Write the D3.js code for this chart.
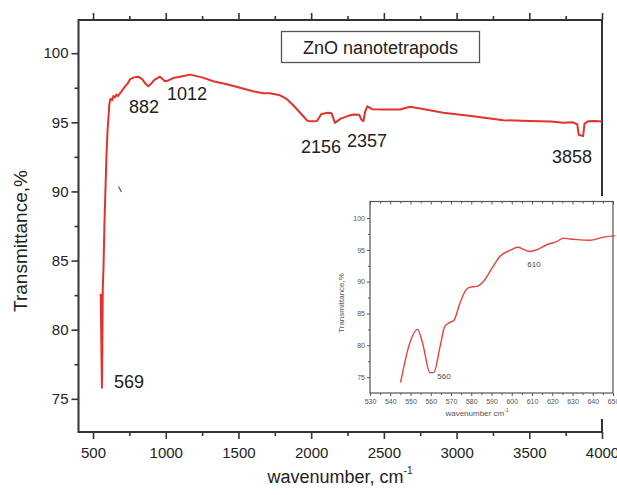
<!DOCTYPE html>
<html><head><meta charset="utf-8">
<script src="https://cdn.jsdelivr.net/npm/d3@7"></script>
<style>
html,body{margin:0;padding:0;background:#fff;}
svg{display:block;font-family:"Liberation Sans",Arial,sans-serif;}
</style></head>
<body><svg id="c" width="617" height="495"></svg>
<script>
// ---- main spectrum (wavenumber cm-1, transmittance %) ----
const mainWave = [553,557,561,564,567,572,578,585,592,600,605,612,620,632,640,652,660,672,685,700,720,738,754,780,811,840,860,880,900,920,960,995,1012,1050,1098,1167,1250,1327,1420,1511,1600,1671,1717,1786,1830,1880,1946,1975,2013,2040,2070,2116,2140,2164,2200,2250,2290,2330,2345,2359,2372,2386,2420,2500,2611,2680,2750,2909,3100,3322,3500,3650,3734,3800,3830,3840,3870,3880,3906,3950,4000];
const mainTrans = [82.6,79.0,75.8,78.5,83.0,84.5,87.5,90.0,92.5,94.5,95.2,96.3,96.7,96.6,96.9,96.8,97.0,96.9,97.1,97.3,97.6,97.8,98.1,98.25,98.3,98.1,97.8,97.6,97.8,98.05,98.3,97.97,98.0,98.2,98.3,98.45,98.25,97.97,97.75,97.5,97.25,97.1,97.1,96.95,96.7,96.2,95.44,95.1,95.08,95.1,95.6,95.69,95.65,94.96,95.25,95.45,95.56,95.55,95.2,95.08,95.8,96.16,95.95,95.92,95.92,96.12,96.0,95.69,95.45,95.15,95.1,95.05,94.96,95.0,94.85,94.1,94.0,94.9,95.08,95.1,95.05];
const peakLabels = ["569","882","1012","2156","2357","3858"];
const peakWave   = [569, 882, 1012, 2156, 2357, 3858];
const peakTrans  = [76.5, 97.0, 98.0, 95.1, 95.4, 94.5];

// ---- inset spectrum ----
const insetWave  = [545.1,549.4,553.5,556,559.6,561.5,564.6,567,569.5,571.4,574.4,577,579.3,582.6,585.9,590.8,594.1,599,603.2,605.6,609,612.3,617.3,622.2,625.5,628.8,632.1,638.7,645.3,651];
const insetTrans = [74.15,80.1,82.5,80.3,75.7,75.7,79.8,83.0,83.6,83.9,86.6,88.5,89.15,89.25,90.0,92.4,93.96,94.9,95.4,95.1,94.75,95.0,95.8,96.3,96.85,96.7,96.6,96.5,97.0,97.2];
const insetLabels = ["560","610"];
const insetLabelWave = [560, 610];

const mainXTicks = [500,1000,1500,2000,2500,3000,3500,4000];
const mainXMinor = [750,1250,1750,2250,2750,3250,3750];
const mainYTicks = [75,80,85,90,95,100];
const mainYMinor = [77.5,82.5,87.5,92.5,97.5];
const insetXTicks = [530,540,550,560,570,580,590,600,610,620,630,640,650];
const insetXMinor = [535,545,555,565,575,585,595,605,615,625,635,645];
const insetYTicks = [75,80,85,90,95,100];
const insetYMinor = [77.5,82.5,87.5,92.5,97.5];

const svg = d3.select("#c");
const RED = "#e3312b", AX = "#333";

// ---------- main chart ----------
const L=78.5, R=602, T=20, B=432;
const x = d3.scaleLinear().domain([400,4000]).range([L,R]);
const y = d3.scaleLinear().domain([72.6,102.4]).range([B,T]);

function styleAxis(g, col, w){
  g.select(".domain").remove();
  g.selectAll("line").attr("stroke",col).attr("stroke-width",w);
}
// ticks
svg.append("g").attr("transform",`translate(${L},0)`)
  .call(d3.axisLeft(y).tickValues(mainYTicks).tickSize(7).tickPadding(3).tickFormat(d3.format("d")))
  .call(g=>{styleAxis(g,AX,1.6);g.selectAll("text").attr("font-size",15).attr("fill","#222").attr("font-family","Liberation Sans, Arial");});
svg.append("g").attr("transform",`translate(${L},0)`)
  .call(d3.axisLeft(y).tickValues(mainYMinor).tickSize(4).tickFormat(""))
  .call(g=>styleAxis(g,AX,1.6));
svg.append("g").attr("transform",`translate(0,${B})`)
  .call(d3.axisBottom(x).tickValues(mainXTicks).tickSize(7).tickPadding(8).tickFormat(d3.format("d")))
  .call(g=>{styleAxis(g,AX,1.6);g.selectAll("text").attr("font-size",15).attr("fill","#222").attr("font-family","Liberation Sans, Arial");});
svg.append("g").attr("transform",`translate(0,${B})`)
  .call(d3.axisBottom(x).tickValues(mainXMinor).tickSize(4).tickFormat(""))
  .call(g=>styleAxis(g,AX,1.6));
svg.append("g").attr("transform",`translate(0,${T})`)
  .call(d3.axisTop(x).tickValues(mainXTicks).tickSize(7).tickFormat(""))
  .call(g=>styleAxis(g,AX,1.6));
svg.append("g").attr("transform",`translate(0,${T})`)
  .call(d3.axisTop(x).tickValues(mainXMinor).tickSize(4).tickFormat(""))
  .call(g=>styleAxis(g,AX,1.6));
// frame
svg.append("rect").attr("x",L).attr("y",T).attr("width",R-L).attr("height",B-T)
  .attr("fill","none").attr("stroke",AX).attr("stroke-width",2);

// curve
const line = d3.line().x(d=>x(d[0])).y(d=>y(d[1]));
svg.append("path").datum(mainWave.map((w,i)=>[w,mainTrans[i]]))
  .attr("d",line).attr("fill","none").attr("stroke",RED).attr("stroke-width",2).attr("stroke-linejoin","round");

// stray mark
svg.append("line").attr("x1",118.5).attr("y1",186.5).attr("x2",121.5).attr("y2",192)
  .attr("stroke","#555").attr("stroke-width",1.2);

// peak labels (offsets in px from the peak point)
const peakDX = [-31,-30,-26,-25,-15,-42];
const peakDY = [12,18,4,14,13,15];
const peakAnchor = ["start","start","start","start","start","start"];
svg.append("g").selectAll("text").data(peakLabels).join("text")
  .attr("x",(d,i)=>x(peakWave[i])+ [0,0,0,0,0,0][i])
  .attr("y",(d,i)=>y(peakTrans[i]))
  .attr("font-size",18).attr("fill","#222")
  .attr("text-anchor","middle")
  .each(function(d,i){
    const pos = [[129,388],[144,113],[187,100],[321,153],[367,147],[572,163]][i];
    d3.select(this).attr("x",pos[0]).attr("y",pos[1]);
  })
  .text(d=>d);

// title box
svg.append("rect").attr("x",281.5).attr("y",31.5).attr("width",198).attr("height",31)
  .attr("fill","#fff").attr("stroke","#555").attr("stroke-width",1.3);
svg.append("text").attr("x",380.5).attr("y",53.5).attr("text-anchor","middle")
  .attr("font-size",18).attr("fill","#222").text("ZnO nanotetrapods");

// axis titles
svg.append("text").attr("transform","translate(27,241) rotate(-90)").attr("text-anchor","middle")
  .attr("font-size",19).attr("fill","#222").text("Transmittance,%");
const xt = svg.append("text").attr("x",340).attr("y",483).attr("text-anchor","middle")
  .attr("font-size",18).attr("fill","#222");
xt.append("tspan").text("wavenumber, cm");
xt.append("tspan").attr("font-size",10).attr("dy",-9).text("-1");

// ---------- inset ----------
const iL=370, iR=613, iT=201.5, iB=393;
svg.append("rect").attr("x",343).attr("y",196).attr("width",274).attr("height",223).attr("fill","#fff");
const ix = d3.scaleLinear().domain([530,650]).range([iL,iR]);
const iy = d3.scaleLinear().domain([72.5,102.6]).range([iB,iT]);
const IAX="#555";
svg.append("g").attr("transform",`translate(${iL},0)`)
  .call(d3.axisLeft(iy).tickValues(insetYTicks).tickSize(3).tickPadding(2).tickFormat(d3.format("d")))
  .call(g=>{styleAxis(g,IAX,1);g.selectAll("text").attr("font-size",7).attr("fill","#555").attr("font-family","Liberation Sans, Arial");});
svg.append("g").attr("transform",`translate(${iL},0)`)
  .call(d3.axisLeft(iy).tickValues(insetYMinor).tickSize(2).tickFormat(""))
  .call(g=>styleAxis(g,IAX,1));
svg.append("g").attr("transform",`translate(0,${iB})`)
  .call(d3.axisBottom(ix).tickValues(insetXTicks).tickSize(3).tickPadding(3).tickFormat(d3.format("d")))
  .call(g=>{styleAxis(g,IAX,1);g.selectAll("text").attr("font-size",7).attr("fill","#555").attr("font-family","Liberation Sans, Arial");});
svg.append("g").attr("transform",`translate(0,${iB})`)
  .call(d3.axisBottom(ix).tickValues(insetXMinor).tickSize(2).tickFormat(""))
  .call(g=>styleAxis(g,IAX,1));
svg.append("g").attr("transform",`translate(0,${iT})`)
  .call(d3.axisBottom(ix).tickValues(insetXTicks).tickSize(3).tickFormat(""))
  .call(g=>styleAxis(g,IAX,1));
svg.append("g").attr("transform",`translate(0,${iT})`)
  .call(d3.axisBottom(ix).tickValues(insetXMinor).tickSize(2).tickFormat(""))
  .call(g=>styleAxis(g,IAX,1));
svg.append("rect").attr("x",iL).attr("y",iT).attr("width",iR-iL).attr("height",iB-iT)
  .attr("fill","none").attr("stroke",IAX).attr("stroke-width",1.2);
const iline = d3.line().x(d=>ix(d[0])).y(d=>iy(d[1])).curve(d3.curveMonotoneX);
svg.append("path").datum(insetWave.map((w,i)=>[w,insetTrans[i]]))
  .attr("d",iline).attr("fill","none").attr("stroke","#e8403a").attr("stroke-width",1.4);
const iLabPos = [[444,379],[534,267]];
svg.append("g").selectAll("text").data(insetLabels).join("text")
  .attr("x",(d,i)=>iLabPos[i][0]).attr("y",(d,i)=>iLabPos[i][1])
  .attr("text-anchor","middle").attr("font-size",8).attr("fill","#444").text(d=>d);
svg.append("text").attr("transform","translate(344,303) rotate(-90)").attr("text-anchor","middle")
  .attr("font-size",8).attr("fill","#555").text("Transmittance,%");
const ixt = svg.append("text").attr("x",477).attr("y",416).attr("text-anchor","middle")
  .attr("font-size",8).attr("fill","#555");
ixt.append("tspan").text("wavenumber cm");
ixt.append("tspan").attr("font-size",5).attr("dy",-4).text("-1");
</script></body></html>
